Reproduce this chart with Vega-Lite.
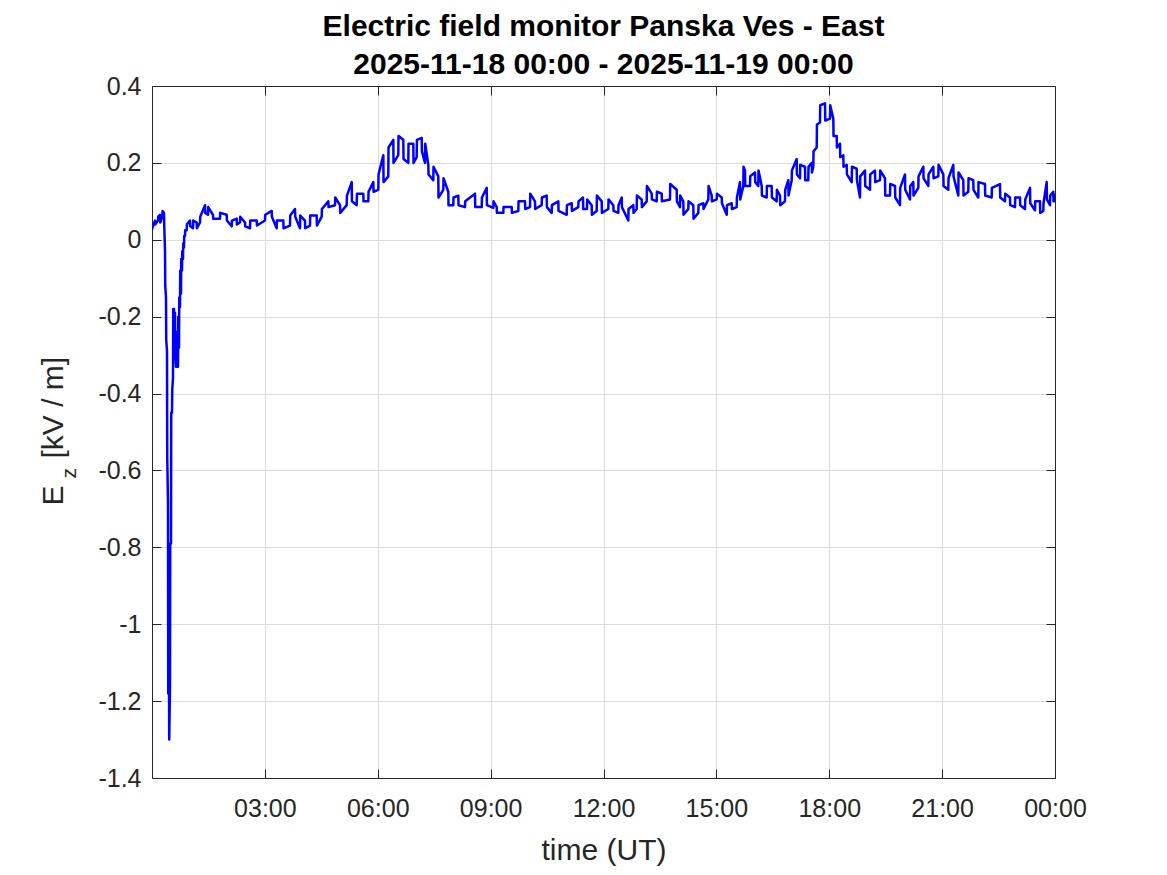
{
  "$schema": "https://vega.github.io/schema/vega-lite/v6.json",
  "width": 903,
  "height": 692,
  "autosize": {"type": "none"},
  "padding": {"left": 152, "top": 86, "right": 112, "bottom": 97},
  "background": "white",
  "config": {"font": "Liberation Sans", "view": {"stroke": null}},
  "title": {
    "text": ["Electric field monitor Panska Ves - East", "2025-11-18 00:00 - 2025-11-19 00:00"],
    "fontSize": 30, "fontWeight": "bold", "color": "#000000", "anchor": "middle", "offset": -6, "lineHeight": 38
  },
  "data": {"values": [
    {"t":0,"ez":0.025},{"t":0.006,"ez":0.03},
    {"t":0.08,"ez":0.05},{"t":0.086,"ez":0.04},
    {"t":0.159,"ez":0.05},{"t":0.165,"ez":0.06},
    {"t":0.213,"ez":0.065},{"t":0.219,"ez":0.045},
    {"t":0.274,"ez":0.06},{"t":0.28,"ez":0.075},
    {"t":0.319,"ez":0.07},{"t":0.325,"ez":0.04},
    {"t":0.346,"ez":-0.03},{"t":0.352,"ez":-0.12},
    {"t":0.372,"ez":-0.15},{"t":0.378,"ez":-0.26},
    {"t":0.399,"ez":-0.29},{"t":0.405,"ez":-0.565},
    {"t":0.425,"ez":-0.685},{"t":0.431,"ez":-1.18},
    {"t":0.452,"ez":-1.15},{"t":0.458,"ez":-1.3},
    {"t":0.478,"ez":-1.16},{"t":0.484,"ez":-0.79},
    {"t":0.505,"ez":-0.79},{"t":0.511,"ez":-0.45},
    {"t":0.532,"ez":-0.45},{"t":0.538,"ez":-0.39},
    {"t":0.558,"ez":-0.36},{"t":0.564,"ez":-0.18},
    {"t":0.585,"ez":-0.18},{"t":0.591,"ez":-0.26},
    {"t":0.611,"ez":-0.19},{"t":0.617,"ez":-0.3},
    {"t":0.638,"ez":-0.33},{"t":0.644,"ez":-0.24},
    {"t":0.664,"ez":-0.24},{"t":0.67,"ez":-0.33},
    {"t":0.691,"ez":-0.33},{"t":0.697,"ez":-0.2},
    {"t":0.718,"ez":-0.28},{"t":0.724,"ez":-0.15},
    {"t":0.744,"ez":-0.175},{"t":0.75,"ez":-0.08},
    {"t":0.771,"ez":-0.14},{"t":0.777,"ez":-0.05},
    {"t":0.797,"ez":-0.08},{"t":0.803,"ez":-0.03},
    {"t":0.824,"ez":-0.05},{"t":0.83,"ez":-0.01},
    {"t":0.85,"ez":-0.02},{"t":0.856,"ez":0.01},
    {"t":0.877,"ez":0.01},{"t":0.883,"ez":0.025},
    {"t":0.922,"ez":0.025},{"t":0.928,"ez":0.04},
    {"t":1.01,"ez":0.05},{"t":1.016,"ez":0.035},
    {"t":1.09,"ez":0.03},{"t":1.096,"ez":0.05},
    {"t":1.188,"ez":0.045},{"t":1.194,"ez":0.03},
    {"t":1.276,"ez":0.045},{"t":1.282,"ez":0.06},
    {"t":1.409,"ez":0.09},{"t":1.415,"ez":0.07},
    {"t":1.488,"ez":0.065},{"t":1.494,"ez":0.085},
    {"t":1.621,"ez":0.065},{"t":1.627,"ez":0.055},
    {"t":1.807,"ez":0.055},{"t":1.813,"ez":0.07},
    {"t":1.985,"ez":0.065},{"t":1.991,"ez":0.05},
    {"t":2.118,"ez":0.035},{"t":2.124,"ez":0.05},
    {"t":2.251,"ez":0.055},{"t":2.257,"ez":0.04},
    {"t":2.339,"ez":0.045},{"t":2.345,"ez":0.06},
    {"t":2.472,"ez":0.045},{"t":2.478,"ez":0.035},
    {"t":2.605,"ez":0.03},{"t":2.611,"ez":0.05},
    {"t":2.783,"ez":0.05},{"t":2.789,"ez":0.037},
    {"t":3.003,"ez":0.05},{"t":3.009,"ez":0.065},
    {"t":3.181,"ez":0.075},{"t":3.187,"ez":0.06},
    {"t":3.314,"ez":0.03},{"t":3.32,"ez":0.05},
    {"t":3.49,"ez":0.05},{"t":3.496,"ez":0.03},
    {"t":3.668,"ez":0.037},{"t":3.674,"ez":0.063},
    {"t":3.801,"ez":0.08},{"t":3.807,"ez":0.06},
    {"t":3.934,"ez":0.03},{"t":3.94,"ez":0.063},
    {"t":4.066,"ez":0.05},{"t":4.072,"ez":0.03},
    {"t":4.199,"ez":0.037},{"t":4.205,"ez":0.063},
    {"t":4.377,"ez":0.063},{"t":4.383,"ez":0.037},
    {"t":4.51,"ez":0.06},{"t":4.516,"ez":0.08},
    {"t":4.686,"ez":0.1},{"t":4.692,"ez":0.085},
    {"t":4.864,"ez":0.09},{"t":4.87,"ez":0.11},
    {"t":4.997,"ez":0.09},{"t":5.003,"ez":0.07},
    {"t":5.175,"ez":0.09},{"t":5.181,"ez":0.115},
    {"t":5.308,"ez":0.15},{"t":5.314,"ez":0.1},
    {"t":5.441,"ez":0.09},{"t":5.447,"ez":0.12},
    {"t":5.616,"ez":0.12},{"t":5.622,"ez":0.1},
    {"t":5.749,"ez":0.1},{"t":5.755,"ez":0.125},
    {"t":5.882,"ez":0.15},{"t":5.888,"ez":0.125},
    {"t":6.015,"ez":0.13},{"t":6.021,"ez":0.17},
    {"t":6.148,"ez":0.22},{"t":6.154,"ez":0.15},
    {"t":6.28,"ez":0.165},{"t":6.286,"ez":0.24},
    {"t":6.413,"ez":0.26},{"t":6.419,"ez":0.2},
    {"t":6.546,"ez":0.22},{"t":6.552,"ez":0.27},
    {"t":6.679,"ez":0.26},{"t":6.685,"ez":0.21},
    {"t":6.812,"ez":0.2},{"t":6.818,"ez":0.25},
    {"t":6.945,"ez":0.25},{"t":6.951,"ez":0.2},
    {"t":7.035,"ez":0.215},{"t":7.041,"ez":0.26},
    {"t":7.168,"ez":0.265},{"t":7.174,"ez":0.23},
    {"t":7.256,"ez":0.2},{"t":7.262,"ez":0.25},
    {"t":7.344,"ez":0.195},{"t":7.35,"ez":0.17},
    {"t":7.476,"ez":0.155},{"t":7.482,"ez":0.19},
    {"t":7.609,"ez":0.165},{"t":7.615,"ez":0.11},
    {"t":7.742,"ez":0.13},{"t":7.748,"ez":0.16},
    {"t":7.875,"ez":0.125},{"t":7.881,"ez":0.09},
    {"t":8.008,"ez":0.09},{"t":8.014,"ez":0.11},
    {"t":8.141,"ez":0.115},{"t":8.147,"ez":0.09},
    {"t":8.319,"ez":0.085},{"t":8.325,"ez":0.1},
    {"t":8.585,"ez":0.12},{"t":8.591,"ez":0.085},
    {"t":8.763,"ez":0.085},{"t":8.769,"ez":0.11},
    {"t":8.896,"ez":0.135},{"t":8.902,"ez":0.09},
    {"t":9.071,"ez":0.083},{"t":9.077,"ez":0.1},
    {"t":9.162,"ez":0.085},{"t":9.168,"ez":0.07},
    {"t":9.337,"ez":0.07},{"t":9.343,"ez":0.085},
    {"t":9.56,"ez":0.085},{"t":9.566,"ez":0.07},
    {"t":9.736,"ez":0.075},{"t":9.742,"ez":0.1},
    {"t":9.914,"ez":0.1},{"t":9.92,"ez":0.08},
    {"t":10.047,"ez":0.085},{"t":10.053,"ez":0.12},
    {"t":10.179,"ez":0.1},{"t":10.185,"ez":0.08},
    {"t":10.357,"ez":0.09},{"t":10.363,"ez":0.11},
    {"t":10.49,"ez":0.115},{"t":10.496,"ez":0.085},
    {"t":10.623,"ez":0.07},{"t":10.629,"ez":0.09},
    {"t":10.799,"ez":0.1},{"t":10.805,"ez":0.075},
    {"t":11.022,"ez":0.065},{"t":11.028,"ez":0.09},
    {"t":11.155,"ez":0.095},{"t":11.161,"ez":0.075},
    {"t":11.33,"ez":0.085},{"t":11.336,"ez":0.1},
    {"t":11.455,"ez":0.11},{"t":11.461,"ez":0.08},
    {"t":11.561,"ez":0.08},{"t":11.567,"ez":0.105},
    {"t":11.686,"ez":0.09},{"t":11.692,"ez":0.065},
    {"t":11.819,"ez":0.075},{"t":11.825,"ez":0.115},
    {"t":11.952,"ez":0.1},{"t":11.958,"ez":0.07},
    {"t":12.128,"ez":0.08},{"t":12.134,"ez":0.105},
    {"t":12.261,"ez":0.09},{"t":12.267,"ez":0.075},
    {"t":12.393,"ez":0.07},{"t":12.399,"ez":0.09},
    {"t":12.484,"ez":0.11},{"t":12.49,"ez":0.085},
    {"t":12.659,"ez":0.05},{"t":12.665,"ez":0.08},
    {"t":12.792,"ez":0.09},{"t":12.798,"ez":0.07},
    {"t":12.882,"ez":0.08},{"t":12.888,"ez":0.115},
    {"t":13.015,"ez":0.105},{"t":13.021,"ez":0.085},
    {"t":13.148,"ez":0.1},{"t":13.154,"ez":0.14},
    {"t":13.281,"ez":0.12},{"t":13.287,"ez":0.105},
    {"t":13.414,"ez":0.1},{"t":13.42,"ez":0.125},
    {"t":13.547,"ez":0.12},{"t":13.553,"ez":0.1},
    {"t":13.767,"ez":0.105},{"t":13.773,"ez":0.145},
    {"t":13.945,"ez":0.13},{"t":13.951,"ez":0.1},
    {"t":14.033,"ez":0.085},{"t":14.039,"ez":0.115},
    {"t":14.121,"ez":0.1},{"t":14.127,"ez":0.065},
    {"t":14.254,"ez":0.08},{"t":14.26,"ez":0.1},
    {"t":14.387,"ez":0.09},{"t":14.393,"ez":0.055},
    {"t":14.52,"ez":0.07},{"t":14.526,"ez":0.09},
    {"t":14.653,"ez":0.095},{"t":14.659,"ez":0.08},
    {"t":14.786,"ez":0.105},{"t":14.792,"ez":0.14},
    {"t":14.876,"ez":0.115},{"t":14.882,"ez":0.1},
    {"t":15.009,"ez":0.105},{"t":15.015,"ez":0.12},
    {"t":15.142,"ez":0.11},{"t":15.148,"ez":0.095},
    {"t":15.275,"ez":0.065},{"t":15.281,"ez":0.09},
    {"t":15.407,"ez":0.095},{"t":15.413,"ez":0.08},
    {"t":15.54,"ez":0.085},{"t":15.546,"ez":0.11},
    {"t":15.628,"ez":0.15},{"t":15.634,"ez":0.105},
    {"t":15.716,"ez":0.14},{"t":15.722,"ez":0.19},
    {"t":15.761,"ez":0.18},{"t":15.767,"ez":0.14},
    {"t":15.894,"ez":0.14},{"t":15.9,"ez":0.165},
    {"t":16.027,"ez":0.175},{"t":16.033,"ez":0.15},
    {"t":16.114,"ez":0.14},{"t":16.12,"ez":0.18},
    {"t":16.205,"ez":0.14},{"t":16.211,"ez":0.115},
    {"t":16.337,"ez":0.11},{"t":16.343,"ez":0.14},
    {"t":16.47,"ez":0.14},{"t":16.476,"ez":0.11},
    {"t":16.603,"ez":0.1},{"t":16.609,"ez":0.13},
    {"t":16.691,"ez":0.115},{"t":16.697,"ez":0.09},
    {"t":16.824,"ez":0.1},{"t":16.83,"ez":0.13},
    {"t":16.912,"ez":0.155},{"t":16.918,"ez":0.115},
    {"t":17.002,"ez":0.155},{"t":17.008,"ez":0.18},
    {"t":17.135,"ez":0.21},{"t":17.141,"ez":0.17},
    {"t":17.223,"ez":0.16},{"t":17.229,"ez":0.195},
    {"t":17.356,"ez":0.19},{"t":17.362,"ez":0.155},
    {"t":17.443,"ez":0.155},{"t":17.449,"ez":0.19},
    {"t":17.534,"ez":0.2},{"t":17.54,"ez":0.175},
    {"t":17.576,"ez":0.19},{"t":17.582,"ez":0.23},
    {"t":17.667,"ez":0.24},{"t":17.673,"ez":0.3},
    {"t":17.754,"ez":0.305},{"t":17.76,"ez":0.35},
    {"t":17.887,"ez":0.355},{"t":17.893,"ez":0.31},
    {"t":18.02,"ez":0.315},{"t":18.026,"ez":0.35},
    {"t":18.108,"ez":0.315},{"t":18.114,"ez":0.27},
    {"t":18.198,"ez":0.27},{"t":18.204,"ez":0.24},
    {"t":18.286,"ez":0.25},{"t":18.292,"ez":0.215},
    {"t":18.374,"ez":0.22},{"t":18.38,"ez":0.19},
    {"t":18.464,"ez":0.195},{"t":18.47,"ez":0.17},
    {"t":18.597,"ez":0.15},{"t":18.603,"ez":0.19},
    {"t":18.73,"ez":0.185},{"t":18.736,"ez":0.155},
    {"t":18.817,"ez":0.11},{"t":18.823,"ez":0.165},
    {"t":18.95,"ez":0.18},{"t":18.956,"ez":0.14},
    {"t":19.083,"ez":0.13},{"t":19.089,"ez":0.17},
    {"t":19.216,"ez":0.18},{"t":19.222,"ez":0.15},
    {"t":19.349,"ez":0.155},{"t":19.355,"ez":0.18},
    {"t":19.482,"ez":0.16},{"t":19.488,"ez":0.115},
    {"t":19.615,"ez":0.115},{"t":19.621,"ez":0.145},
    {"t":19.748,"ez":0.14},{"t":19.754,"ez":0.11},
    {"t":19.88,"ez":0.09},{"t":19.886,"ez":0.135},
    {"t":20.013,"ez":0.17},{"t":20.019,"ez":0.13},
    {"t":20.146,"ez":0.105},{"t":20.152,"ez":0.14},
    {"t":20.234,"ez":0.15},{"t":20.24,"ez":0.115},
    {"t":20.367,"ez":0.135},{"t":20.373,"ez":0.165},
    {"t":20.5,"ez":0.19},{"t":20.506,"ez":0.16},
    {"t":20.633,"ez":0.14},{"t":20.639,"ez":0.17},
    {"t":20.766,"ez":0.19},{"t":20.772,"ez":0.16},
    {"t":20.899,"ez":0.165},{"t":20.905,"ez":0.195},
    {"t":21.032,"ez":0.17},{"t":21.038,"ez":0.14},
    {"t":21.164,"ez":0.13},{"t":21.17,"ez":0.16},
    {"t":21.297,"ez":0.195},{"t":21.303,"ez":0.165},
    {"t":21.43,"ez":0.115},{"t":21.436,"ez":0.175},
    {"t":21.563,"ez":0.155},{"t":21.569,"ez":0.115},
    {"t":21.696,"ez":0.125},{"t":21.702,"ez":0.16},
    {"t":21.828,"ez":0.155},{"t":21.834,"ez":0.13},
    {"t":21.961,"ez":0.11},{"t":21.967,"ez":0.15},
    {"t":22.139,"ez":0.145},{"t":22.145,"ez":0.115},
    {"t":22.317,"ez":0.11},{"t":22.323,"ez":0.135},
    {"t":22.538,"ez":0.145},{"t":22.544,"ez":0.11},
    {"t":22.671,"ez":0.1},{"t":22.677,"ez":0.12},
    {"t":22.804,"ez":0.11},{"t":22.81,"ez":0.09},
    {"t":22.937,"ez":0.085},{"t":22.943,"ez":0.11},
    {"t":23.07,"ez":0.11},{"t":23.076,"ez":0.09},
    {"t":23.203,"ez":0.08},{"t":23.209,"ez":0.105},
    {"t":23.336,"ez":0.135},{"t":23.342,"ez":0.095},
    {"t":23.468,"ez":0.077},{"t":23.474,"ez":0.1},
    {"t":23.601,"ez":0.1},{"t":23.607,"ez":0.07},
    {"t":23.689,"ez":0.075},{"t":23.695,"ez":0.095},
    {"t":23.779,"ez":0.15},{"t":23.785,"ez":0.105},
    {"t":23.867,"ez":0.09},{"t":23.873,"ez":0.115},
    {"t":23.955,"ez":0.125},{"t":23.961,"ez":0.1},
    {"t":23.994,"ez":0.1},{"t":24,"ez":0.12}
  ]},
  "layer": [
    {
      "mark": {"type": "line", "color": "#0000ff", "strokeWidth": 2.5, "strokeJoin": "round", "clip": true},
      "encoding": {
        "x": {
          "field": "t", "type": "quantitative",
          "scale": {"domain": [0, 24], "nice": false, "zero": false},
          "axis": {
            "orient": "bottom", "values": [3, 6, 9, 12, 15, 18, 21, 24],
            "labelExpr": "(datum.value % 24 < 10 ? '0' : '') + (datum.value % 24) + ':00'",
            "grid": true, "gridColor": "#dcdcdc", "gridWidth": 1,
            "domainColor": "#262626", "domainWidth": 1, "tickColor": "#262626", "tickSize": -9, "tickWidth": 1,
            "labelFontSize": 25, "labelColor": "#262626", "labelPadding": 27, "labelFlush": false, "labelOverlap": false,
            "title": "time (UT)", "titleFontSize": 30, "titleFontWeight": "normal", "titleColor": "#262626", "titlePadding": 14
          }
        },
        "y": {
          "field": "ez", "type": "quantitative",
          "scale": {"domain": [-1.4, 0.4], "nice": false, "zero": false},
          "axis": {
            "orient": "left", "values": [-1.4, -1.2, -1, -0.8, -0.6, -0.4, -0.2, 0, 0.2, 0.4],
            "labelExpr": "'' + round(datum.value * 10) / 10",
            "grid": true, "gridColor": "#dcdcdc", "gridWidth": 1,
            "domainColor": "#262626", "domainWidth": 1, "tickColor": "#262626", "tickSize": -9, "tickWidth": 1,
            "labelFontSize": 25, "labelColor": "#262626", "labelPadding": 20, "labelFlush": false, "labelOverlap": false,
            "title": "E", "titleFontSize": 30, "titleFontWeight": "normal", "titleColor": "#262626",
            "titleAngle": 270, "titleAlign": "left", "titleBaseline": "alphabetic", "titleX": -90, "titleY": 419
          }
        }
      }
    },
    {
      "mark": {"type": "line", "opacity": 0},
      "encoding": {
        "x": {
          "field": "t", "type": "quantitative",
          "scale": {"domain": [0, 24], "nice": false, "zero": false},
          "axis": {
            "orient": "top", "values": [3, 6, 9, 12, 15, 18, 21], "labels": false, "grid": false,
            "domainColor": "#262626", "domainWidth": 1, "tickColor": "#262626", "tickSize": -9, "tickWidth": 1,
            "title": "z", "titleFontSize": 21, "titleFontWeight": "normal", "titleColor": "#262626",
            "titleAngle": 270, "titleAlign": "left", "titleBaseline": "alphabetic", "titleX": -77, "titleY": 392
          }
        },
        "y": {
          "field": "ez", "type": "quantitative",
          "scale": {"domain": [-1.4, 0.4], "nice": false, "zero": false},
          "axis": {
            "orient": "right", "values": [-1.4, -1.2, -1, -0.8, -0.6, -0.4, -0.2, 0, 0.2, 0.4], "labels": false, "grid": false,
            "domainColor": "#262626", "domainWidth": 1, "tickColor": "#262626", "tickSize": -9, "tickWidth": 1,
            "title": "[kV / m]", "titleFontSize": 30, "titleFontWeight": "normal", "titleColor": "#262626",
            "titleAngle": 270, "titleAlign": "left", "titleBaseline": "alphabetic", "titleX": -993, "titleY": 372
          }
        }
      }
    }
  ],
  "resolve": {"axis": {"x": "independent", "y": "independent"}}
}
